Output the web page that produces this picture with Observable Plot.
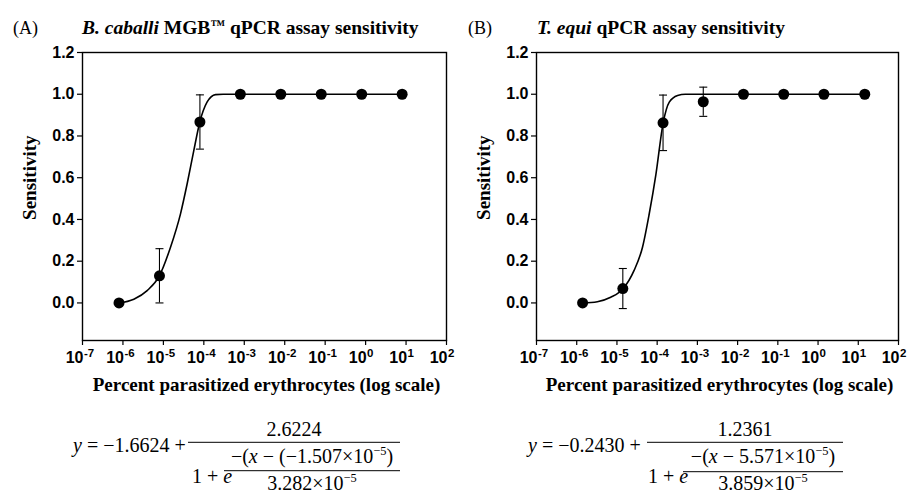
<!DOCTYPE html>
<html>
<head>
<meta charset="utf-8">
<script src="https://cdn.jsdelivr.net/npm/d3@7"></script>
<script src="https://cdn.jsdelivr.net/npm/@observablehq/plot@0.6"></script>
<style>
  body { margin: 0; background: #fff; }
  #wrap { position: relative; width: 915px; height: 493px; background: #fff; overflow: hidden; }
  #pA, #pB { position: absolute; top: 40px; }
  #pA { left: 0; }
  #pB { left: 455px; }
  #overlay { position: absolute; left: 0; top: 0; pointer-events: none; }
</style>
</head>
<body>
<div id="wrap">
  <div id="pA"></div>
  <div id="pB"></div>
  <svg id="overlay" width="915" height="493"></svg>
</div>
<script>
// ---- Data ----
const xTicks = [1e-7, 1e-6, 1e-5, 1e-4, 1e-3, 1e-2, 1e-1, 1e0, 1e1, 1e2];
const xTickExponents = ["-7", "-6", "-5", "-4", "-3", "-2", "-1", "0", "1", "2"];
const yTicks = [0, 0.2, 0.4, 0.6, 0.8, 1.0, 1.2];

// Panel A: B. caballi MGB qPCR
const xA = [8e-7, 8e-6, 8e-5, 8e-4, 8e-3, 8e-2, 8e-1, 8e0];
const yA = [0, 0.13, 0.867, 1, 1, 1, 1, 1];
const errA = [0, 0.13, 0.13, 0, 0, 0, 0, 0];
const curveXA = [7.9e-7, 1.86e-6, 3.97e-6, 8.0e-6, 1.5e-5, 2.65e-5, 3.87e-5, 5.66e-5, 7.96e-5, 1.21e-4, 1.95e-4, 3.0e-4, 8.0];
const curveYA = [0, 0.018, 0.059, 0.131, 0.267, 0.427, 0.571, 0.731, 0.867, 0.963, 0.998, 1.0, 1.0];

// Panel B: T. equi qPCR
const xB = [1.4e-6, 1.4e-5, 1.4e-4, 1.4e-3, 1.4e-2, 1.4e-1, 1.4, 14.5];
const yB = [0, 0.069, 0.863, 0.964, 1, 1, 1, 1];
const errB = [0, 0.096, 0.133, 0.07, 0, 0, 0, 0];
const curveXB = [1.38e-6, 3.26e-6, 7.0e-6, 1.42e-5, 2.67e-5, 4.32e-5, 6.32e-5, 9.29e-5, 1.41e-4, 2.0e-4, 3.22e-4, 5.0e-4, 14.5];
const curveYB = [0, 0.006, 0.027, 0.068, 0.156, 0.267, 0.425, 0.615, 0.863, 0.962, 0.994, 1.0, 1.0];

const xLabel = "Percent parasitized erythrocytes (log scale)";
const yLabel = "Sensitivity";

// cap symbol for error bars
const capSymbol = {
  draw(context, size) {
    const w = 4;
    context.moveTo(-w, 0);
    context.lineTo(w, 0);
  }
};

const serifFont = "'Liberation Serif', 'Times New Roman', serif";

function makePlot(xs, ys, errs, cxs, cys, opts) {
  const pts = xs.map((x, i) => ({x, y: ys[i], e: errs[i]}));
  const bars = pts.filter(d => d.e > 0);
  const curve = cxs.map((x, i) => ({x, y: cys[i]}));
  return Plot.plot({
    width: opts.width,
    height: 360,
    marginLeft: opts.marginLeft,
    marginRight: opts.marginRight,
    marginTop: 12,
    marginBottom: 60,
    style: {fontFamily: "'Liberation Sans', Arial, sans-serif", fontWeight: "bold", fontSize: "16px", color: "black", background: "white", overflow: "visible"},
    x: {type: "log", domain: [1e-7, 1e2]},
    y: {domain: [-0.18, 1.2]},
    marks: [
      Plot.axisY({ticks: yTicks, tickFormat: d3.format(".1f"), tickSize: 5, tickPadding: 3, fontSize: 16, fontWeight: "bold", label: null, strokeWidth: 1.2}),
      Plot.axisX({ticks: xTicks, tickFormat: () => "", tickSize: 5, label: null, strokeWidth: 1.2}),
      Plot.text(xTicks, {x: d => d, frameAnchor: "bottom", lineAnchor: "middle", text: () => "10", textAnchor: "end", dy: 17.5, dx: 1, fontSize: 16, fontWeight: "bold"}),
      Plot.text(xTicks, {x: d => d, frameAnchor: "bottom", lineAnchor: "middle", text: (d, i) => xTickExponents[i], textAnchor: "start", dy: 13, dx: 1.5, fontSize: 11.5, fontWeight: "bold"}),
      Plot.text([xLabel], {frameAnchor: "bottom", lineAnchor: "middle", textAnchor: "middle", text: d => d, dy: 44.5, dx: 2, fontSize: 19, fontWeight: "bold", fontFamily: serifFont}),
      Plot.text([0.6], {y: d => d, frameAnchor: "left", lineAnchor: "middle", textAnchor: "middle", text: () => yLabel, rotate: -90, dx: -53, fontSize: 19, fontWeight: "bold", fontFamily: serifFont}),
      Plot.frame({stroke: "black", strokeWidth: 1.4}),
      Plot.line(curve, {x: "x", y: "y", curve: "monotone-x", stroke: "black", strokeWidth: 1.6}),
      Plot.ruleX(bars, {x: "x", y1: d => d.y - d.e, y2: d => d.y + d.e, stroke: "black", strokeWidth: 1.1}),
      Plot.dot(bars, {x: "x", y: d => d.y - d.e, symbol: capSymbol, stroke: "black", strokeWidth: 1.1, fill: "none"}),
      Plot.dot(bars, {x: "x", y: d => d.y + d.e, symbol: capSymbol, stroke: "black", strokeWidth: 1.1, fill: "none"}),
      Plot.dot(pts, {x: "x", y: "y", r: 5.5, fill: "black", stroke: "none"})
    ]
  });
}

document.getElementById("pA").append(makePlot(xA, yA, errA, curveXA, curveYA, {width: 460, marginLeft: 82, marginRight: 14}));
document.getElementById("pB").append(makePlot(xB, yB, errB, curveXB, curveYB, {width: 455, marginLeft: 81, marginRight: 12}));

// ---- Titles and equations (overlay) ----
const svg = d3.select("#overlay");

function rich(x, y, parts, o = {}) {
  const size = o.size || 20;
  const t = svg.append("text")
    .attr("x", x).attr("y", y)
    .attr("font-family", serifFont)
    .attr("font-size", size)
    .attr("text-anchor", o.anchor || "start")
    .attr("fill", "black")
    .style("white-space", "pre");
  let shift = 0;
  parts.forEach(p => {
    const s = t.append("tspan").text(p.t);
    if (p.i) s.attr("font-style", "italic");
    if (p.b) s.attr("font-weight", "bold");
    if (p.sup) {
      const up = p.up || 8;
      s.attr("font-size", size * (p.scale || 0.62)).attr("dy", -up + shift);
      shift = up;
    } else if (shift) {
      s.attr("dy", shift);
      shift = 0;
    }
  });
  return t;
}
function hline(x1, x2, y) {
  svg.append("line").attr("x1", x1).attr("x2", x2).attr("y1", y).attr("y2", y)
    .attr("stroke", "black").attr("stroke-width", 1);
}

// titles
rich(13, 33.5, [{t: "(A)"}], {size: 18});
rich(82, 33.5, [{t: "B. caballi", b: true, i: true}, {t: " MGB", b: true}, {t: "™", b: true, sup: true, scale: 0.75, up: 4}, {t: " qPCR assay sensitivity", b: true}], {size: 19.5});
rich(468, 33.5, [{t: "(B)"}], {size: 18});
rich(537, 33.5, [{t: "T. equi", b: true, i: true}, {t: " qPCR assay sensitivity", b: true}], {size: 19.5});

// equation A
rich(73, 452, [{t: "y", i: true}, {t: " = −1.6624 + "}]);
rich(294, 436, [{t: "2.6224"}], {anchor: "middle"});
hline(188, 400, 442.3);
rich(192, 483, [{t: "1 + "}, {t: "e", i: true}]);
rich(312, 463, [{t: "−("}, {t: "x", i: true}, {t: " − (−1.507×10"}, {t: "−5", sup: true}, {t: ")"}], {anchor: "middle"});
hline(224, 400, 470.7);
rich(312, 490, [{t: "3.282×10"}, {t: "−5", sup: true}], {anchor: "middle"});

// equation B
rich(528, 452, [{t: "y", i: true}, {t: " = −0.2430 + "}]);
rich(745, 436, [{t: "1.2361"}], {anchor: "middle"});
hline(647, 843, 442.3);
rich(648, 483, [{t: "1 + "}, {t: "e", i: true}]);
rich(763, 463, [{t: "−("}, {t: "x", i: true}, {t: " − 5.571×10"}, {t: "−5", sup: true}, {t: ")"}], {anchor: "middle"});
hline(683, 843, 471.7);
rich(763, 490, [{t: "3.859×10"}, {t: "−5", sup: true}], {anchor: "middle"});
</script>
</body>
</html>
